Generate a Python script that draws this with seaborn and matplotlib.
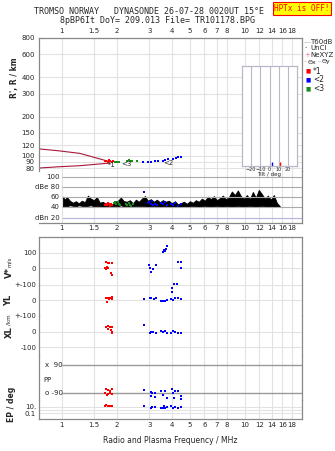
import matplotlib
matplotlib.use("Agg")
import matplotlib.pyplot as plt
from matplotlib.ticker import NullLocator
import seaborn as sns

sns.set_style("white")
plt.rcParams['font.family'] = ['DejaVu Sans']

# ---- data ----
fticks = [1, 1.5, 2, 3, 4, 5, 6, 7, 8, 10, 12, 14, 16, 18]
flabels = ['1', '1.5', '2', '3', '4', '5', '6', '7', '8', '10', '12', '14', '16', '18']
h_ticks = [80, 90, 100, 120, 150, 200, 300, 400, 600, 800]

# dark red profile lines (MHz, km)
prof_up_f = [0.75, 0.954, 1.254, 1.83]
prof_up_h = [113, 109.4, 104.4, 90.1]
prof_lo_f = [0.75, 0.954, 1.254, 1.83]
prof_lo_h = [80.6, 82.4, 84, 88]

# echo clusters: virtual height
red_f = [1.72, 1.75, 1.78, 1.81, 1.84, 1.87, 1.9]
red_h = [91, 92, 90, 93, 91, 89, 92]
green_f = [1.95, 1.98, 2.02, 2.05, 2.27, 2.32, 2.37, 2.42, 2.58]
green_h = [89, 90, 89, 90, 92, 93, 92, 92, 91]
blue_f = [2.76, 2.96, 3.05, 3.22, 3.36, 3.55, 3.66, 3.81, 4.06, 4.2, 4.32, 4.47]
blue_h = [89, 90, 90, 91, 91, 92, 93, 94.6, 94, 96, 97.6, 98.7]

# amplitude trace (MHz, dB top / bottom)
amp_f = [1.013, 1.038, 1.065, 1.106, 1.148, 1.192, 1.238, 1.286, 1.335, 1.387,
         1.44, 1.496, 1.553, 1.613, 1.675, 1.74, 1.806, 1.876, 1.948, 2.023,
         2.101, 2.181, 2.265, 2.352, 2.443, 2.537, 2.634, 2.736, 2.841, 2.95,
         3.063, 3.181, 3.304, 3.431, 3.562, 3.699, 3.842, 3.989, 4.143, 4.302,
         4.467, 4.639, 4.818, 5.003, 5.195, 5.395, 5.602, 5.818, 6.041, 6.274,
         6.515, 6.765, 7.025, 7.296, 7.576, 7.868, 8.17, 8.484, 8.81, 9.149,
         9.501, 9.866, 10.25, 10.64, 11.05, 11.47, 11.91, 12.37, 12.85, 13.34,
         13.85, 14.39, 14.94, 15.51]
amp_top = [61, 55, 60, 53, 49, 52, 48, 53, 50, 63,
           57, 54, 60, 49, 51, 46, 49, 45, 51, 53,
           59, 52, 51, 54, 48, 55, 51, 57, 62, 53,
           56, 51, 55, 50, 54, 51, 53, 48, 52, 46,
           48, 51, 47, 52, 49, 54, 51, 57, 53, 61,
           56, 62, 54, 58, 63, 56, 60, 71, 64, 73,
           62, 57, 64, 56, 70, 59, 74, 66, 57, 63,
           55, 64, 49, 42]
amp_bot = [41, 43, 42, 44, 43, 42, 44, 43, 42, 43,
           44, 42, 43, 42, 41, 42, 43, 42, 43, 42,
           44, 42, 43, 41, 42, 43, 42, 43, 42, 41,
           42, 43, 42, 41, 42, 43, 41, 42, 41, 42,
           41, 42, 41, 42, 43, 42, 41, 42, 43, 42,
           41, 42, 43, 42, 41, 43, 42, 41, 42, 43,
           42, 41, 42, 43, 42, 41, 42, 43, 42, 41,
           42, 41, 42, 41]
red_amp_f = [1.72, 1.74, 1.77, 1.79, 1.81, 1.83, 1.85, 1.87, 1.89]
red_amp = [45, 47, 44, 48, 46, 43, 47, 45, 44]
green_amp_f = [1.92, 1.95, 1.98, 2.02, 2.05, 2.08, 2.25, 2.28, 2.32, 2.36, 2.4, 2.44]
green_amp = [48, 50, 46, 51, 47, 45, 47, 44, 49, 45, 43, 46]
blue_amp_f = [2.81, 2.95, 3.0, 3.05, 3.1, 3.15, 3.22, 3.3, 3.46, 3.58, 3.68, 3.73,
              3.97, 4.06, 4.14, 4.29, 4.47]
blue_amp = [70, 48, 50, 46, 52, 45, 47, 44, 49, 46, 50, 44, 47, 45, 48, 43, 46]

# Doppler velocity V* (m/s)
red_v_f = [1.74, 1.78, 1.81, 1.89, 1.77, 1.79, 1.74, 1.72, 1.85, 1.89]
red_v = [42, 36, 32, 36, 8, 0, -6, 4, -28, -43]
blue_v_f = [3.55, 3.6, 3.65, 3.7, 3.73, 3.0, 3.02, 3.06, 3.15, 3.26, 4.29, 4.47, 4.47]
blue_v = [104, 117, 112, 122, 142, 19, 4, -24, -6, 19, 42, 42, 4]

# YL (km)
red_yl_f = [1.74, 1.78, 1.83, 1.89, 1.77, 1.81, 1.87]
red_yl = [17, 13, 13, 23, -9, 6, 6]
blue_yl_f = [2.81, 3.02, 3.06, 3.19, 3.26, 3.46, 3.58, 3.68, 3.73, 3.97, 4.06, 4.14,
             4.29, 4.47, 4.0, 4.02, 4.1, 4.23]
blue_yl = [6, 13, 17, 11, 17, -4, -4, -4, 2, 11, 0, 13, 13, 11, 55, 80, 102, 106]

# XL (km)
red_xl_f = [1.74, 1.78, 1.83, 1.87, 1.79, 1.85, 1.89, 1.89]
red_xl = [30, 36, 32, 28, 15, 9, 0, -10]
blue_xl_f = [2.81, 3.02, 3.06, 3.15, 3.26, 3.46, 3.58, 3.68, 3.73, 3.97, 4.06, 4.14,
             4.29, 4.47]
blue_xl = [41, -10, -2, -2, -6, 4, 0, 4, -10, -6, 4, -2, -6, -10]

# polarisation PP (deg)
red_pp_f = [1.74, 1.79, 1.83, 1.89, 1.72, 1.78, 1.83, 1.87, 1.76]
red_pp = [-64, -72, -81, -64, -90, -96, -94, -100, -107]
blue_pp_f = [2.81, 3.05, 3.09, 3.07, 3.22, 3.22, 3.46, 3.58, 3.68, 3.73, 4.0, 4.06,
             4.14, 4.29, 4.47, 4.47, 4.1]
blue_pp = [-72, -84, -94, -111, -94, -116, -79, -107, -79, -122, -68, -90,
           -79, -79, -111, -129, -122]

# EP (deg)
red_ep_f = [1.72, 1.75, 1.78, 1.8, 1.83, 1.86, 1.89]
red_ep = [15, 25, 12, 20, 14, 12, 18]
blue_ep_f = [2.81, 3.05, 3.1, 3.22, 3.46, 3.55, 3.6, 3.68, 3.73, 3.97, 4.06, 4.14,
             4.29, 4.47]
blue_ep = [20, 4, 6, 10, 5, 3, 12, 4, 8, 15, 5, 9, 3, 6]

# tilt inset (deg)
tilt_x = [11, 3]
tilt_c = ['#ff0000', '#0000ff']

RED, BLUE, GREEN = '#ff0000', '#0000ff', '#1a8a1a'
GRID = '#e2e2e2'
FRAME = '#888888'

W, H = 335, 451
fig = plt.figure(figsize=(3.35, 4.51), dpi=100)


def box(top, bottom, left=39, right=302):
    return [left / W, 1 - bottom / H, (right - left) / W, (bottom - top) / H]


def freq_axis(ax, spines):
    ax.set_xscale('log')
    ax.set_xlim(0.75, 20.5)
    ax.set_xticks(fticks)
    ax.xaxis.set_minor_locator(NullLocator())
    ax.set_xticklabels(flabels)
    ax.tick_params(axis='both', length=0, labelsize=5, pad=2,
                   labelbottom=False, labeltop=False)
    ax.grid(axis='x', color=GRID, lw=0.8)
    ax.set_facecolor('none')
    for k, s in ax.spines.items():
        s.set_color(FRAME)
        s.set_linewidth(0.9)
        s.set_visible(k in spines)


def pts(ax, x, y, c):
    sns.scatterplot(x=x, y=y, ax=ax, color=c, marker='s', s=2, linewidth=0,
                    legend=False, clip_on=False, zorder=5)


ax_h = fig.add_axes(box(38, 171))
ax_a = fig.add_axes(box(171, 222.7))
ax_v = fig.add_axes(box(236.7, 284.6))
ax_y = fig.add_axes(box(284.6, 316))
ax_x = fig.add_axes(box(316, 356))
ax_p = fig.add_axes(box(356, 400))
ax_e = fig.add_axes(box(400, 419))

# ---- height panel ----
freq_axis(ax_h, ['top', 'left', 'right'])
ax_h.set_yscale('log')
ax_h.set_ylim(76.5, 800)
ax_h.set_yticks(h_ticks)
ax_h.yaxis.set_minor_locator(NullLocator())
ax_h.set_yticklabels([str(t) for t in h_ticks])
ax_h.grid(axis='y', color=GRID, lw=0.8)
ax_h.tick_params(labeltop=True, pad=3)
sns.lineplot(x=prof_up_f, y=prof_up_h, ax=ax_h, color='#a8183a', lw=0.8, sort=False)
sns.lineplot(x=prof_lo_f, y=prof_lo_h, ax=ax_h, color='#a8183a', lw=0.8, sort=False)
pts(ax_h, red_f, red_h, RED)
pts(ax_h, green_f, green_h, GREEN)
pts(ax_h, blue_f, blue_h, BLUE)
ax_h.text(1.88, 85, '*1', fontsize=5, ha='center', va='center', zorder=6)
ax_h.text(2.25, 86.5, '<3', fontsize=5, ha='center', va='center', zorder=6)
ax_h.text(3.84, 88, '<2', fontsize=5, ha='center', va='center', zorder=6)

# ---- amplitude panel ----
freq_axis(ax_a, ['bottom', 'right'])
ax_a.set_ylim(10, 111)
ax_a.set_yticks([])
ax_a.tick_params(labelbottom=True)
ax_a.hlines([100, 80, 60, 40], 1.0, 20.5, color='#aaaaaa', lw=0.8)
ax_a.hlines([20], 1.0, 20.5, color='#b4b4e0', lw=0.8)
for v, lab in [(100, '100'), (80, 'dBe 80'), (60, '60'), (40, '40'), (20, 'dBn 20')]:
    ax_a.text(0.975, v, lab, fontsize=5, ha='right', va='center')
ax_a.fill_between(amp_f, amp_bot, amp_top, color='black', lw=0.6)
pts(ax_a, red_amp_f, red_amp, RED)
pts(ax_a, green_amp_f, green_amp, GREEN)
pts(ax_a, blue_amp_f, blue_amp, BLUE)

# ---- V* / YL / XL ----
freq_axis(ax_v, ['top', 'left', 'right'])
ax_v.set_ylim(-104.5, 202.6)
ax_v.set_yticks([100, 0])
ax_v.set_yticklabels(['100', '0'])
ax_v.grid(axis='y', color=GRID, lw=0.8)
pts(ax_v, red_v_f, red_v, RED)
pts(ax_v, blue_v_f, blue_v, BLUE)

freq_axis(ax_y, ['left', 'right'])
ax_y.set_ylim(-100, 100)
ax_y.set_yticks([100, 0, -100])
ax_y.set_yticklabels(['+-100', '0', '+-100'])
ax_y.grid(axis='y', color=GRID, lw=0.8)
pts(ax_y, red_yl_f, red_yl, RED)
pts(ax_y, blue_yl_f, blue_yl, BLUE)

freq_axis(ax_x, ['left', 'right'])
ax_x.set_ylim(-155, 100)
ax_x.set_yticks([0, -100])
ax_x.set_yticklabels(['0', '-100'])
ax_x.grid(axis='y', color=GRID, lw=0.8)
pts(ax_x, red_xl_f, red_xl, RED)
pts(ax_x, blue_xl_f, blue_xl, BLUE)

# ---- PP ----
freq_axis(ax_p, ['left', 'right'])
ax_p.set_ylim(-137.4, 148.5)
ax_p.set_yticks([])
ax_p.hlines([90, -90], 1.0, 20.5, color='#999999', lw=1.0)
ax_p.text(0.81, 90, 'x  90', fontsize=5, va='center')
ax_p.text(0.79, -5, 'PP', fontsize=5, va='center')
ax_p.text(0.81, -90, 'o -90', fontsize=5, va='center')
pts(ax_p, red_pp_f, red_pp, RED)
pts(ax_p, blue_pp_f, blue_pp, BLUE)

# ---- EP ----
freq_axis(ax_e, ['left', 'right', 'bottom'])
ax_e.set_yscale('log')
ax_e.set_ylim(10 ** -2.73, 10 ** 3.03)
ax_e.set_yticks([10, 1, 0.1])
ax_e.yaxis.set_minor_locator(NullLocator())
ax_e.set_yticklabels(['10.', '', '0.1'])
ax_e.grid(axis='y', color=GRID, lw=0.8)
ax_e.tick_params(labelbottom=True)
ax_e.set_xlabel('Radio and Plasma Frequency / MHz', fontsize=5.5, labelpad=6)
pts(ax_e, red_ep_f, red_ep, RED)
pts(ax_e, blue_ep_f, blue_ep, BLUE)

# ---- tilt inset ----
ax_t = fig.add_axes(box(66, 166, 242, 297))
ax_t.set_facecolor('white')
ax_t.set_xlim(-30, 30)
ax_t.set_ylim(0, 100)
ax_t.set_xticks([-20, -10, 0, 10, 20])
ax_t.set_yticks([])
ax_t.grid(axis='x', color='#b8b8c8', lw=0.8)
ax_t.tick_params(length=0, labelsize=3.5, pad=1)
ax_t.set_xlabel('Tilt / deg', fontsize=4, labelpad=0)
for s in ax_t.spines.values():
    s.set_color('#b8b8c8')
    s.set_linewidth(0.9)
ax_t.vlines(tilt_x, 0, 4, colors=tilt_c, lw=1.0)

# ---- axis labels ----
fig.text(15 / W, 1 - 78 / H, "R', R / km", rotation=90, fontsize=5.5, fontweight='bold',
         ha='center', va='center')
fig.text(9 / W, 1 - 273 / H, 'V*', rotation=90, fontsize=6, fontweight='bold',
         ha='center', va='center')
fig.text(9 / W, 1 - 262 / H, 'm/s', rotation=90, fontsize=4, ha='center', va='center')
fig.text(9 / W, 1 - 300 / H, 'YL', rotation=90, fontsize=6, fontweight='bold',
         ha='center', va='center')
fig.text(9 / W, 1 - 320 / H, '/km', rotation=90, fontsize=4, ha='center', va='center')
fig.text(9 / W, 1 - 332 / H, 'XL', rotation=90, fontsize=6, fontweight='bold',
         ha='center', va='center')
fig.text(12 / W, 1 - 404 / H, 'EP / deg', rotation=90, fontsize=5.5, fontweight='bold',
         ha='center', va='center')

# ---- header ----
mono = ['DejaVu Sans Mono']
fig.text(149 / W, 1 - 12 / H, 'TROMSO NORWAY   DYNASONDE 26-07-28 0020UT 15\u00b0E',
         fontsize=6, family=mono, ha='center', va='center')
fig.text(157 / W, 1 - 20.5 / H, '8pBP6It DoY= 209.013 File= TR101178.BPG',
         fontsize=6, family=mono, ha='center', va='center')
fig.text(302 / W, 1 - 8.5 / H, 'HPTx is OFF!', fontsize=5.5, family=mono, color='red',
         ha='center', va='center',
         bbox=dict(facecolor='#ffff00', edgecolor='red', lw=0.8, pad=1.2))

# ---- legend (right margin) ----
lx, tx = 304 / W, 310 / W
leg = [(42, '\u2014', '#aaaaaa', 'T60dB'), (48.5, '\u00b7', 'black', 'UnCl'),
       (55, '+', '#ff7090', 'NeXYZ')]
for y, sym, c, lab in leg:
    fig.text(lx, 1 - y / H, sym, color=c, fontsize=5, va='center')
    fig.text(tx, 1 - y / H, lab, fontsize=5, va='center')
fig.text(303.5 / W, 1 - 62 / H, '\u2013', color='#ff7090', fontsize=4.5, va='center')
fig.text(308 / W, 1 - 62 / H, '\u0398x', fontsize=4.5, va='center')
fig.text(317.5 / W, 1 - 62 / H, '\u2013', color='#7070ff', fontsize=4.5, va='center')
fig.text(321.5 / W, 1 - 62 / H, '\u0398y', fontsize=4.5, va='center')
for y, c, lab in [(71, RED, '*1'), (80, BLUE, '<2'), (89, GREEN, '<3')]:
    fig.text(305 / W, 1 - y / H, '\u25a0', color=c, fontsize=4, va='center')
    fig.text(313 / W, 1 - y / H, lab, fontsize=5.5, va='center')

fig.savefig('out.png', dpi=100)
plt.close(fig)
